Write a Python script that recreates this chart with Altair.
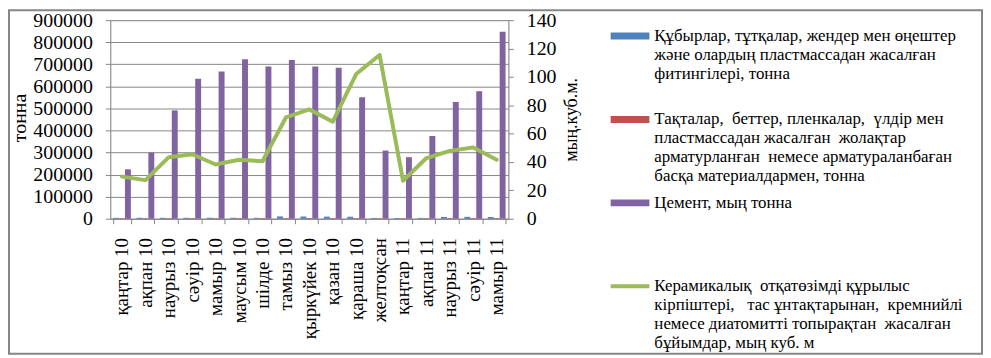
import altair as alt
import pandas as pd

months = ["қаңтар 10", "ақпан 10", "наурыз 10", "сәуір 10", "мамыр 10", "маусым 10",
          "шілде 10", "тамыз 10", "қыркүйек 10", "қазан 10", "қараша 10", "желтоқсан",
          "қаңтар 11", "ақпан 11", "наурыз 11", "сәуір 11", "мамыр 11"]

pipes = [4000, 4500, 4200, 4300, 4500, 4400, 4200, 10500, 10000, 9500, 9000,
         3500, 3200, 3600, 8000, 8500, 8000]
plates = [2500, 2600, 2700, 2800, 2800, 2900, 2800, 3000, 3000, 2900, 2800,
          2500, 2400, 2600, 2800, 2900, 2800]
cement = [224000, 300000, 491000, 635000, 667000, 723000, 690000, 719000, 690000,
          684000, 551000, 309000, 279000, 375000, 529000, 578000, 848000]
bricks = [29.7, 27.2, 43.4, 45.5, 38.2, 41.6, 40.5, 71.4, 77.1, 68.4, 102.0,
          115.5, 26.8, 42.8, 47.8, 50.3, 41.6]

series = ["pipes", "plates", "cement", "bricks"]
colors = ["#4F81BD", "#C0504D", "#8064A2", "#9BBB59"]
NB = "\u00a0"
legend_labels = [
    "Құбырлар, тұтқалар, жендер мен өңештер|және олардың пластмассадан жасалған|фитингілері, тонна",
    f"Тақталар,{NB} беттер, пленкалар,{NB} үлдір мен|пластмассадан жасалған{NB} жолақтар|арматурланған{NB} немесе арматураланбаған|басқа материалдармен, тонна",
    "Цемент, мың тонна",
    f"Керамикалық{NB} отқатөзімді құрылыс|кірпіштері,{NB}{NB} тас ұнтақтарынан,{NB} кремнийлі|немесе диатомитті топырақтан{NB} жасалған|бұйымдар, мың куб. м",
]
swatch_widths = [7, 7, 7, 4]

FONT = "Liberation Serif"
GRID = "#868686"

rows = []
for name, vals in zip(series[:3], [pipes, plates, cement]):
    for m, v in zip(months, vals):
        rows.append({"month": m, "series": name, "value": v})
bar_df = pd.DataFrame(rows)
line_df = pd.DataFrame({"month": months, "value": bricks})
leg_df = pd.DataFrame({"row": list(range(4)), "series": series,
                       "label": legend_labels, "sw": swatch_widths})

xscale = alt.Scale(domain=months, paddingInner=0.24, paddingOuter=0.12)
color_scale = alt.Scale(domain=series, range=colors)

x_axis = alt.Axis(title=None, labelAngle=270, labelFont=FONT, labelFontSize=19,
                  labelColor="#000000", labelPadding=14, tickBand="extent",
                  ticks=True, tickSize=5, tickColor=GRID, domainColor=GRID, labelLimit=200)

bars = alt.Chart(bar_df).mark_bar().encode(
    x=alt.X("month:N", sort=months, scale=xscale, axis=x_axis),
    xOffset=alt.XOffset("series:N", sort=series[:3], scale=alt.Scale(domain=series[:3])),
    y=alt.Y("value:Q",
            scale=alt.Scale(domain=[0, 900000], nice=False),
            axis=alt.Axis(title="тонна", orient="left", values=list(range(0, 900001, 100000)),
                          format="d", grid=True, gridColor=GRID, domainColor=GRID,
                          ticks=True, tickColor=GRID, tickSize=5, labelFont=FONT,
                          labelFontSize=20, labelColor="#000000", labelPadding=13,
                          titleFont=FONT, titleFontSize=20, titleFontWeight="normal",
                          titleColor="#000000", titleX=-91, titleY=98,
                          titleAngle=270, titleAlign="center", titleBaseline="middle")),
    color=alt.Color("series:N", scale=color_scale, legend=None),
)

line = alt.Chart(line_df).mark_line(color="#9BBB59", strokeWidth=4,
                                    strokeJoin="round", strokeCap="round").encode(
    x=alt.X("month:N", sort=months, scale=xscale),
    y=alt.Y("value:Q",
            scale=alt.Scale(domain=[0, 140], nice=False),
            axis=alt.Axis(title="мың.куб.м.", orient="right", values=list(range(0, 141, 20)),
                          grid=False, domainColor=GRID, ticks=True, tickColor=GRID,
                          tickSize=5, labelFont=FONT, labelFontSize=20,
                          labelColor="#000000", labelPadding=13, titleFont=FONT,
                          titleFontSize=18, titleFontWeight="normal", titleColor="#000000",
                          titleX=64, titleY=100, titleAngle=270,
                          titleAlign="center", titleBaseline="middle")),
)

leg_y = alt.Y("row:O", scale=alt.Scale(type="point", range=[16, 268], padding=0), axis=None)

swatches = alt.Chart(leg_df).mark_rule(strokeCap="butt").encode(
    x=alt.value(504), x2=alt.value(543), y=leg_y,
    color=alt.Color("series:N", scale=color_scale, legend=None),
    strokeWidth=alt.StrokeWidth("sw:Q", scale=None),
)

texts = alt.Chart(leg_df).transform_calculate(
    lines="split(datum.label, '|')"
).mark_text(align="left", baseline="top", dy=-8, font=FONT, fontSize=17,
            lineHeight=19, color="#000000").encode(
    x=alt.value(548), y=leg_y, text="lines:N",
)

border = alt.Chart(pd.DataFrame({"a": [0]})).mark_rect(
    fill=None, stroke="#868686", strokeWidth=2).encode(
    x=alt.value(-102), x2=alt.value(878), y=alt.value(-10), y2=alt.value(336),
)

chart = alt.layer(bars, line, swatches, texts, border).resolve_scale(
    y="independent", color="shared"
).properties(
    width=401, height=200,
    autosize=alt.AutoSizeParams(type="none"),
    padding={"left": 103, "top": 11, "right": 478, "bottom": 137},
).configure_view(stroke=None).configure(
    background="#ffffff", font=FONT
).configure_axisX(labelPadding=14, tickSize=5, ticks=True
).configure_axisY(labelPadding=13, tickSize=5, ticks=True)

chart.save("out.html", embed_options={"renderer": "svg", "actions": False})
